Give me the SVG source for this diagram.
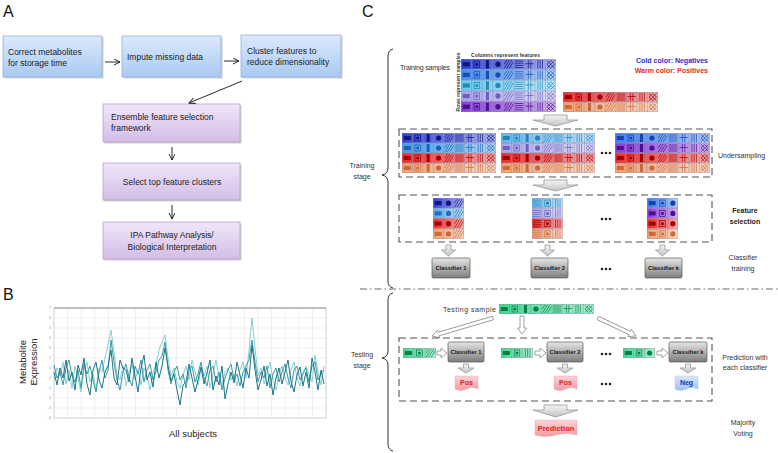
<svg xmlns="http://www.w3.org/2000/svg" xmlns:xlink="http://www.w3.org/1999/xlink" width="778" height="453" viewBox="0 0 778 453">
<style>
text{font-family:"Liberation Sans",Arial,sans-serif;}
.lbl{font-size:16px;fill:#111;}
.bt{font-size:8.5px;fill:#222;}
.ct{font-size:7px;fill:#333;}
.cb{font-size:7px;fill:#222;font-weight:bold;}
.arr{stroke:#111;stroke-width:0.9;fill:none;}
.dash{fill:none;stroke:#555;stroke-width:1.1;stroke-dasharray:7 4;}
.brace{fill:none;stroke:#333;stroke-width:1;}
.blk{fill:url(#gArrow);stroke:#8c8c8c;stroke-width:0.7;}
.hol{fill:#fff;stroke:#8c8c8c;stroke-width:0.8;}
.clf{fill:url(#gClf);stroke:#5a5a5a;stroke-width:0.7;}
.clt{font-size:5.8px;font-weight:bold;fill:#1a1a1a;text-anchor:middle;}
.g{fill:currentColor;}
.s{fill:none;stroke:currentColor;stroke-width:0.7;}
.grid{fill:none;stroke:#8f8fa8;stroke-width:0.5;}
.dot{fill:#222;}
</style>
<defs>
<linearGradient id="blueBox" x1="0" y1="0" x2="0" y2="1"><stop offset="0" stop-color="#dce9fb"/><stop offset="1" stop-color="#a8caf3"/></linearGradient>
<linearGradient id="purpBox" x1="0" y1="0" x2="0" y2="1"><stop offset="0" stop-color="#f0e6f8"/><stop offset="1" stop-color="#d3bde7"/></linearGradient>
<linearGradient id="fade" x1="0" y1="0" x2="1" y2="0"><stop offset="0" stop-color="#fff" stop-opacity="0"/><stop offset="1" stop-color="#fff" stop-opacity="0.6"/></linearGradient>
<linearGradient id="gArrow" x1="0" y1="0" x2="0" y2="1"><stop offset="0" stop-color="#f4f4f4"/><stop offset="1" stop-color="#c4c4c4"/></linearGradient>
<linearGradient id="gClf" x1="0" y1="0" x2="0" y2="1"><stop offset="0" stop-color="#e6e6e6"/><stop offset="1" stop-color="#7c7c7c"/></linearGradient>
<linearGradient id="gPos" x1="0" y1="0" x2="0" y2="1"><stop offset="0" stop-color="#fbd4d8"/><stop offset="1" stop-color="#f19aa4"/></linearGradient>
<linearGradient id="gNeg" x1="0" y1="0" x2="0" y2="1"><stop offset="0" stop-color="#d8e8fb"/><stop offset="1" stop-color="#9cc2f1"/></linearGradient>
<marker id="ar" markerWidth="7" markerHeight="7" refX="6" refY="3" orient="auto" markerUnits="userSpaceOnUse"><path d="M0,0 L6,3 L0,6" fill="none" stroke="#111" stroke-width="0.9"/></marker>
<symbol id="g1" viewBox="0 0 10.5 10"><rect class="g" x="1.8" y="3" width="7" height="4"/></symbol>
<symbol id="g2" viewBox="0 0 10.5 10"><rect class="s" x="2.5" y="2" width="5.5" height="6"/><circle class="g" cx="5.25" cy="5" r="1.5"/></symbol>
<symbol id="g3" viewBox="0 0 10.5 10"><rect class="g" x="3.8" y="1" width="3" height="8"/></symbol>
<symbol id="g4" viewBox="0 0 10.5 10"><circle class="g" cx="5.25" cy="5" r="2.6"/></symbol>
<symbol id="g5" viewBox="0 0 10.5 10"><path class="s" d="M1,9 L6,1 M3.5,9 L8.5,1 M6,9 L10,2.5 M1,5 L3.5,1"/></symbol>
<symbol id="g6" viewBox="0 0 10.5 10"><path class="s" d="M1,2H9.5M1,4H9.5M1,6H9.5M1,8H9.5"/></symbol>
<symbol id="g7" viewBox="0 0 10.5 10"><path class="s" d="M4,1V9M6.5,1V9M1,4.5H9.5"/></symbol>
<symbol id="g8" viewBox="0 0 10.5 10"><path class="s" d="M3,1V9M5.25,1V9M7.5,1V9"/></symbol>
<symbol id="g9" viewBox="0 0 10.5 10"><path class="s" d="M1.5,1.5L9,8.5M9,1.5L1.5,8.5M1.5,5L5.25,1.5L9,5L5.25,8.5Z"/></symbol>
<symbol id="gly9" viewBox="0 0 94.5 10" preserveAspectRatio="none">
<use href="#g1" x="0" y="0" width="10.5" height="10"/><use href="#g2" x="10.5" y="0" width="10.5" height="10"/><use href="#g3" x="21" y="0" width="10.5" height="10"/><use href="#g4" x="31.5" y="0" width="10.5" height="10"/><use href="#g5" x="42" y="0" width="10.5" height="10"/><use href="#g6" x="52.5" y="0" width="10.5" height="10"/><use href="#g7" x="63" y="0" width="10.5" height="10"/><use href="#g8" x="73.5" y="0" width="10.5" height="10"/><use href="#g9" x="84" y="0" width="10.5" height="10"/>
</symbol>
<symbol id="grid9" viewBox="0 0 94.5 10" preserveAspectRatio="none"><path class="grid" d="M0.25,0.25H94.25V9.75H0.25ZM10.5,0V10M21,0V10M31.5,0V10M42,0V10M52.5,0V10M63,0V10M73.5,0V10M84,0V10"/></symbol>
<symbol id="grid3" viewBox="0 0 31.5 10" preserveAspectRatio="none"><path class="grid" d="M0.25,0.25H31.25V9.75H0.25ZM10.5,0V10M21,0V10"/></symbol>
<symbol id="gA" viewBox="0 0 31.5 10" preserveAspectRatio="none"><use href="#g1" x="0" width="10.5" height="10"/><use href="#g4" x="10.5" width="10.5" height="10"/><use href="#g5" x="21" width="10.5" height="10"/></symbol>
<symbol id="gB" viewBox="0 0 31.5 10" preserveAspectRatio="none"><use href="#g6" x="0" width="10.5" height="10"/><use href="#g2" x="10.5" width="10.5" height="10"/><use href="#g8" x="21" width="10.5" height="10"/></symbol>
<symbol id="gC" viewBox="0 0 31.5 10" preserveAspectRatio="none"><use href="#g1" x="0" width="10.5" height="10"/><use href="#g2" x="10.5" width="10.5" height="10"/><use href="#g4" x="21" width="10.5" height="10"/></symbol>
<symbol id="gD" viewBox="0 0 31.5 10" preserveAspectRatio="none"><use href="#g1" x="0" width="10.5" height="10"/><use href="#g2" x="10.5" width="10.5" height="10"/><use href="#g5" x="21" width="10.5" height="10"/></symbol>
<symbol id="gE" viewBox="0 0 31.5 10" preserveAspectRatio="none"><use href="#g1" x="0" width="10.5" height="10"/><use href="#g2" x="10.5" width="10.5" height="10"/><use href="#g8" x="21" width="10.5" height="10"/></symbol>
</defs>
<rect width="778" height="453" fill="#fff"/>

<!-- Panel A -->
<g id="panelA">
<text class="lbl" x="3" y="17">A</text>
<g id="a-correct"><rect x="4.5" y="37.5" width="99" height="41" fill="#cfcfcf"/><rect x="3" y="36" width="99" height="41" fill="url(#blueBox)" stroke="#8fb2dc" stroke-width="0.8"/><text class="bt" x="8" y="55">Correct metabolites</text><text class="bt" x="8" y="66">for storage time</text></g>
<g id="a-impute"><rect x="123.5" y="37.5" width="99" height="41" fill="#cfcfcf"/><rect x="122" y="36" width="99" height="41" fill="url(#blueBox)" stroke="#8fb2dc" stroke-width="0.8"/><text class="bt" x="127" y="59.5">Impute missing data</text></g>
<g id="a-cluster"><rect x="242.5" y="36.5" width="100" height="42" fill="#cfcfcf"/><rect x="241" y="35" width="100" height="42" fill="url(#blueBox)" stroke="#8fb2dc" stroke-width="0.8"/><text class="bt" x="247" y="54">Cluster features to</text><text class="bt" x="247" y="65">reduce dimensionality</text></g>
<g id="a-ensemble"><rect x="104.5" y="105.5" width="137" height="38" fill="#cfcfcf"/><rect x="103" y="104" width="137" height="38" fill="url(#purpBox)" stroke="#b9a0d3" stroke-width="0.8"/><text class="bt" x="111" y="120">Ensemble feature selection</text><text class="bt" x="111" y="131">framework</text></g>
<g id="a-select"><rect x="104.5" y="164.5" width="137" height="37" fill="#cfcfcf"/><rect x="103" y="163" width="137" height="37" fill="url(#purpBox)" stroke="#b9a0d3" stroke-width="0.8"/><text class="bt" x="172" y="184.5" text-anchor="middle">Select top feature clusters</text></g>
<g id="a-ipa"><rect x="104.5" y="223.5" width="137" height="37" fill="#cfcfcf"/><rect x="103" y="222" width="137" height="37" fill="url(#purpBox)" stroke="#b9a0d3" stroke-width="0.8"/><text class="bt" x="172" y="238" text-anchor="middle">IPA Pathway Analysis/</text><text class="bt" x="172" y="250" text-anchor="middle">Biological Interpretation</text></g>
<g id="a-connectors">
<line class="arr" x1="105" y1="62" x2="120" y2="62" marker-end="url(#ar)"/>
<line class="arr" x1="224" y1="61" x2="239" y2="61" marker-end="url(#ar)"/>
<line class="arr" x1="242" y1="81" x2="189" y2="103" marker-end="url(#ar)"/>
<line class="arr" x1="172" y1="147" x2="172" y2="160" marker-end="url(#ar)"/>
<line class="arr" x1="172" y1="205" x2="172" y2="219" marker-end="url(#ar)"/>
</g>
</g>

<!-- Panel B -->
<g id="panelB">
<text class="lbl" x="3" y="300">B</text>
<rect x="54" y="308" width="272" height="110" fill="#fff" stroke="#b0b0b0" stroke-width="0.6"/>
<path d="M54,318H326M54,328H326M54,338H326M54,348H326M54,358H326M54,368H326M54,378H326M54,388H326M54,398H326M54,408H326M67.6,308V418M81.2,308V418M94.8,308V418M108.4,308V418M122,308V418M135.6,308V418M149.2,308V418M162.8,308V418M176.4,308V418M190,308V418M203.6,308V418M217.2,308V418M230.8,308V418M244.4,308V418M258,308V418M271.6,308V418M285.2,308V418M298.8,308V418M312.4,308V418" stroke="#dedede" stroke-width="0.5" fill="none"/>
<line x1="54" y1="308" x2="326" y2="308" stroke="#888" stroke-width="0.8"/>
<g font-size="3" fill="#777" text-anchor="end">
<text x="51" y="309">7</text><text x="51" y="319">6</text><text x="51" y="329">5</text><text x="51" y="339">4</text><text x="51" y="349">3</text><text x="51" y="359">2</text><text x="51" y="369">1</text><text x="51" y="379">0</text><text x="51" y="389">-1</text><text x="51" y="399">-2</text><text x="51" y="409">-3</text><text x="51" y="419">-4</text>
</g>
<polyline fill="none" stroke="#86d0d0" stroke-width="1" points="54,380 57,368 60,376 63,362 66,384 69,370 72,388 75,366 78,378 81,392 84,370 87,362 90,382 93,374 96,390 99,368 102,372 105,358 108,345 111,330 114,352 117,375 120,380 123,366 126,386 129,372 132,364 135,380 138,370 141,385 144,368 147,376 150,390 153,372 156,365 159,350 162,342 165,335 168,358 171,376 174,368 177,382 180,388 183,375 186,366 189,380 192,360 195,372 198,385 201,370 204,376 207,366 210,388 213,374 216,360 219,378 222,386 225,372 228,368 231,380 234,374 237,386 240,370 243,362 246,378 249,350 252,318 255,348 258,376 261,368 264,384 267,372 270,362 273,380 276,390 279,374 282,366 285,378 288,385 291,370 294,362 297,378 300,386 303,372 306,366 309,374 312,382 315,355 318,372 321,385 324,366"/>
<polyline fill="none" stroke="#3a9aa8" stroke-width="1" points="54,365 57,378 60,372 63,385 66,368 69,360 72,376 75,382 78,370 81,388 84,364 87,374 90,366 93,380 96,392 99,372 102,360 105,378 108,370 111,340 114,362 117,380 120,390 123,372 126,364 129,378 132,386 135,366 138,374 141,360 144,382 147,370 150,364 153,380 156,372 159,360 162,356 165,342 168,370 171,384 174,372 177,366 180,380 183,374 186,388 189,370 192,366 195,382 198,374 201,362 204,378 207,386 210,370 213,366 216,382 219,372 222,390 225,378 228,370 231,364 234,380 237,374 240,386 243,372 246,366 249,360 252,340 255,362 258,382 261,372 264,378 267,366 270,388 273,374 276,368 279,382 282,372 285,364 288,378 291,388 294,370 297,366 300,380 303,374 306,368 309,382 312,366 315,362 318,380 321,374 324,370"/>
<polyline fill="none" stroke="#1d7686" stroke-width="1" points="54,372 57,385 60,368 63,378 66,360 69,381 72,372 75,390 78,365 81,375 84,358 87,384 90,395 93,370 96,362 99,380 102,388 105,372 108,366 111,350 114,378 117,385 120,360 123,368 126,370 129,382 132,358 135,376 138,392 141,368 144,355 147,380 150,372 153,387 156,362 159,378 162,366 165,348 168,366 171,381 174,374 177,390 180,405 183,385 186,382 189,364 192,378 195,392 198,380 201,367 204,384 207,373 210,360 213,390 216,376 219,385 222,366 225,399 228,384 231,372 234,383 237,362 240,375 243,388 246,368 249,378 252,345 255,370 258,390 261,380 264,366 267,386 270,374 273,395 276,378 279,368 282,384 285,372 288,360 291,381 294,392 297,375 300,367 303,386 306,372 309,388 312,358 315,372 318,390 321,370 324,384"/>
<text x="26" y="362" font-size="9.5" fill="#222" text-anchor="middle" transform="rotate(-90 26 362)">Metabolite</text>
<text x="37" y="362" font-size="9.5" fill="#222" text-anchor="middle" transform="rotate(-90 37 362)">Expression</text>
<text x="193" y="437" font-size="9.5" fill="#222" text-anchor="middle">All subjects</text>
</g>

<!-- Panel C -->
<g id="panelC">
<text class="lbl" x="362" y="17">C</text>
<path class="brace" d="M393,49 Q388,50 388,56 V168 Q388,174 382,175 Q388,176 388,182 V281 Q388,287 393,288"/>
<path class="brace" d="M393,293 Q388,294 388,300 V351 Q388,357 382,358 Q388,359 388,365 V444 Q388,450 393,451"/>
<line x1="360" y1="289" x2="778" y2="289" stroke="#6a6a6a" stroke-width="1" stroke-dasharray="7 3 1.5 3"/>
<text class="ct" x="362" y="168" text-anchor="middle">Training</text>
<text class="ct" x="362" y="179" text-anchor="middle">stage</text>
<text class="ct" x="362" y="357" text-anchor="middle">Testing</text>
<text class="ct" x="362" y="368" text-anchor="middle">stage</text>

<g id="training-samples">
<text class="ct" x="400" y="69.5" textLength="50">Training samples</text>
<text x="471" y="57" font-size="5" font-weight="bold" fill="#333" textLength="69">Columns represent features</text>
<text x="460" y="82" font-size="5" font-weight="bold" fill="#333" text-anchor="middle" transform="rotate(-90 460 82)">Rows represent samples</text>
<text x="708" y="62.5" font-size="7" font-weight="bold" fill="#2b2bcc" text-anchor="end">Cold color: Negatives</text>
<text x="708" y="72.5" font-size="7" font-weight="bold" fill="#e02a2a" text-anchor="end">Warm color: Positives</text>
<g id="neg-matrix">
<rect x="461" y="59" width="95" height="10.6" fill="#2f3fd8"/><rect x="461" y="59" width="95" height="10.6" fill="url(#fade)"/><use href="#gly9" x="461" y="59" width="95" height="10.6" color="#101880"/><use href="#grid9" x="461" y="59" width="95" height="10.6"/>
<rect x="461" y="69.6" width="95" height="10.6" fill="#3f8ef0"/><rect x="461" y="69.6" width="95" height="10.6" fill="url(#fade)"/><use href="#gly9" x="461" y="69.6" width="95" height="10.6" color="#1a4fb0"/><use href="#grid9" x="461" y="69.6" width="95" height="10.6"/>
<rect x="461" y="80.2" width="95" height="10.6" fill="#62c8f0"/><rect x="461" y="80.2" width="95" height="10.6" fill="url(#fade)"/><use href="#gly9" x="461" y="80.2" width="95" height="10.6" color="#2a88b8"/><use href="#grid9" x="461" y="80.2" width="95" height="10.6"/>
<rect x="461" y="90.8" width="95" height="10.6" fill="#a8a6ec"/><rect x="461" y="90.8" width="95" height="10.6" fill="url(#fade)"/><use href="#gly9" x="461" y="90.8" width="95" height="10.6" color="#6a60c0"/><use href="#grid9" x="461" y="90.8" width="95" height="10.6"/>
<rect x="461" y="101.4" width="95" height="10.6" fill="#8a3cd8"/><rect x="461" y="101.4" width="95" height="10.6" fill="url(#fade)"/><use href="#gly9" x="461" y="101.4" width="95" height="10.6" color="#4a1090"/><use href="#grid9" x="461" y="101.4" width="95" height="10.6"/>
</g>
<g id="pos-matrix">
<rect x="563" y="92" width="95" height="10" fill="#ec2a2a"/><rect x="563" y="92" width="95" height="10" fill="url(#fade)"/><use href="#gly9" x="563" y="92" width="95" height="10" color="#a00000"/><use href="#grid9" x="563" y="92" width="95" height="10"/>
<rect x="563" y="102" width="95" height="10" fill="#f5a070"/><rect x="563" y="102" width="95" height="10" fill="url(#fade)"/><use href="#gly9" x="563" y="102" width="95" height="10" color="#c86a3a"/><use href="#grid9" x="563" y="102" width="95" height="10"/>
</g>
</g>
<polygon class="blk" points="544,115 567,115 567,120 578,120 555.5,126 533,120 544,120"/>

<g id="undersampling">
<rect class="dash" x="399" y="129" width="313" height="48"/>
<g id="us-m1">
<rect x="402" y="133" width="94" height="10" fill="#2f3fd8"/><rect x="402" y="133" width="94" height="10" fill="url(#fade)"/><use href="#gly9" x="402" y="133" width="94" height="10" color="#101880"/><use href="#grid9" x="402" y="133" width="94" height="10"/>
<rect x="402" y="143" width="94" height="10" fill="#3f9af0"/><rect x="402" y="143" width="94" height="10" fill="url(#fade)"/><use href="#gly9" x="402" y="143" width="94" height="10" color="#1a5fb0"/><use href="#grid9" x="402" y="143" width="94" height="10"/>
<rect x="402" y="153" width="94" height="10" fill="#ec2a2a"/><rect x="402" y="153" width="94" height="10" fill="url(#fade)"/><use href="#gly9" x="402" y="153" width="94" height="10" color="#a00000"/><use href="#grid9" x="402" y="153" width="94" height="10"/>
<rect x="402" y="163" width="94" height="10" fill="#f5a070"/><rect x="402" y="163" width="94" height="10" fill="url(#fade)"/><use href="#gly9" x="402" y="163" width="94" height="10" color="#c86a3a"/><use href="#grid9" x="402" y="163" width="94" height="10"/>
</g>
<g id="us-m2">
<rect x="501" y="133" width="94" height="10" fill="#62b8f0"/><rect x="501" y="133" width="94" height="10" fill="url(#fade)"/><use href="#gly9" x="501" y="133" width="94" height="10" color="#2a80b8"/><use href="#grid9" x="501" y="133" width="94" height="10"/>
<rect x="501" y="143" width="94" height="10" fill="#a8a6ec"/><rect x="501" y="143" width="94" height="10" fill="url(#fade)"/><use href="#gly9" x="501" y="143" width="94" height="10" color="#6a60c0"/><use href="#grid9" x="501" y="143" width="94" height="10"/>
<rect x="501" y="153" width="94" height="10" fill="#ec2a2a"/><rect x="501" y="153" width="94" height="10" fill="url(#fade)"/><use href="#gly9" x="501" y="153" width="94" height="10" color="#a00000"/><use href="#grid9" x="501" y="153" width="94" height="10"/>
<rect x="501" y="163" width="94" height="10" fill="#f5a070"/><rect x="501" y="163" width="94" height="10" fill="url(#fade)"/><use href="#gly9" x="501" y="163" width="94" height="10" color="#c86a3a"/><use href="#grid9" x="501" y="163" width="94" height="10"/>
</g>
<g id="us-dots"><circle class="dot" cx="602" cy="153" r="1.3"/><circle class="dot" cx="606" cy="153" r="1.3"/><circle class="dot" cx="610" cy="153" r="1.3"/></g>
<g id="us-m3">
<rect x="615" y="133" width="95" height="10" fill="#3a7ef0"/><rect x="615" y="133" width="95" height="10" fill="url(#fade)"/><use href="#gly9" x="615" y="133" width="95" height="10" color="#1a40b0"/><use href="#grid9" x="615" y="133" width="95" height="10"/>
<rect x="615" y="143" width="95" height="10" fill="#8a3cd8"/><rect x="615" y="143" width="95" height="10" fill="url(#fade)"/><use href="#gly9" x="615" y="143" width="95" height="10" color="#4a1090"/><use href="#grid9" x="615" y="143" width="95" height="10"/>
<rect x="615" y="153" width="95" height="10" fill="#ec2a2a"/><rect x="615" y="153" width="95" height="10" fill="url(#fade)"/><use href="#gly9" x="615" y="153" width="95" height="10" color="#a00000"/><use href="#grid9" x="615" y="153" width="95" height="10"/>
<rect x="615" y="163" width="95" height="10" fill="#f5a070"/><rect x="615" y="163" width="95" height="10" fill="url(#fade)"/><use href="#gly9" x="615" y="163" width="95" height="10" color="#c86a3a"/><use href="#grid9" x="615" y="163" width="95" height="10"/>
</g>
<text class="ct" x="718" y="157.5">Undersampling</text>
</g>
<polygon class="blk" points="544,180 567,180 567,185 578,185 555.5,191 533,185 544,185"/>

<g id="feature-selection">
<rect class="dash" x="399" y="195" width="313" height="47"/>
<g id="fs1">
<rect x="433" y="198" width="31" height="10.25" fill="#2f3fd8"/><rect x="433" y="198" width="31" height="10.25" fill="url(#fade)"/><use href="#gA" x="433" y="198" width="31" height="10.25" color="#101880"/><use href="#grid3" x="433" y="198" width="31" height="10.25"/>
<rect x="433" y="208.25" width="31" height="10.25" fill="#5aaaf0"/><rect x="433" y="208.25" width="31" height="10.25" fill="url(#fade)"/><use href="#gA" x="433" y="208.25" width="31" height="10.25" color="#2a6ab8"/><use href="#grid3" x="433" y="208.25" width="31" height="10.25"/>
<rect x="433" y="218.5" width="31" height="10.25" fill="#ec2a2a"/><rect x="433" y="218.5" width="31" height="10.25" fill="url(#fade)"/><use href="#gA" x="433" y="218.5" width="31" height="10.25" color="#a00000"/><use href="#grid3" x="433" y="218.5" width="31" height="10.25"/>
<rect x="433" y="228.75" width="31" height="10.25" fill="#f5a070"/><rect x="433" y="228.75" width="31" height="10.25" fill="url(#fade)"/><use href="#gA" x="433" y="228.75" width="31" height="10.25" color="#c86a3a"/><use href="#grid3" x="433" y="228.75" width="31" height="10.25"/>
</g>
<g id="fs2">
<rect x="532" y="198" width="31" height="10.25" fill="#62c0f0"/><rect x="532" y="198" width="31" height="10.25" fill="url(#fade)"/><use href="#gB" x="532" y="198" width="31" height="10.25" color="#2a80b8"/><use href="#grid3" x="532" y="198" width="31" height="10.25"/>
<rect x="532" y="208.25" width="31" height="10.25" fill="#a8a6ec"/><rect x="532" y="208.25" width="31" height="10.25" fill="url(#fade)"/><use href="#gB" x="532" y="208.25" width="31" height="10.25" color="#6a60c0"/><use href="#grid3" x="532" y="208.25" width="31" height="10.25"/>
<rect x="532" y="218.5" width="31" height="10.25" fill="#ec2a2a"/><rect x="532" y="218.5" width="31" height="10.25" fill="url(#fade)"/><use href="#gB" x="532" y="218.5" width="31" height="10.25" color="#a00000"/><use href="#grid3" x="532" y="218.5" width="31" height="10.25"/>
<rect x="532" y="228.75" width="31" height="10.25" fill="#f5a070"/><rect x="532" y="228.75" width="31" height="10.25" fill="url(#fade)"/><use href="#gB" x="532" y="228.75" width="31" height="10.25" color="#c86a3a"/><use href="#grid3" x="532" y="228.75" width="31" height="10.25"/>
</g>
<g id="fs-dots"><circle class="dot" cx="602" cy="219" r="1.3"/><circle class="dot" cx="606" cy="219" r="1.3"/><circle class="dot" cx="610" cy="219" r="1.3"/></g>
<g id="fs3">
<rect x="647" y="198" width="31" height="10.25" fill="#3a7ef0"/><rect x="647" y="198" width="31" height="10.25" fill="url(#fade)"/><use href="#gC" x="647" y="198" width="31" height="10.25" color="#1a40b0"/><use href="#grid3" x="647" y="198" width="31" height="10.25"/>
<rect x="647" y="208.25" width="31" height="10.25" fill="#8a3cd8"/><rect x="647" y="208.25" width="31" height="10.25" fill="url(#fade)"/><use href="#gC" x="647" y="208.25" width="31" height="10.25" color="#4a1090"/><use href="#grid3" x="647" y="208.25" width="31" height="10.25"/>
<rect x="647" y="218.5" width="31" height="10.25" fill="#ec2a2a"/><rect x="647" y="218.5" width="31" height="10.25" fill="url(#fade)"/><use href="#gC" x="647" y="218.5" width="31" height="10.25" color="#a00000"/><use href="#grid3" x="647" y="218.5" width="31" height="10.25"/>
<rect x="647" y="228.75" width="31" height="10.25" fill="#f5a070"/><rect x="647" y="228.75" width="31" height="10.25" fill="url(#fade)"/><use href="#gC" x="647" y="228.75" width="31" height="10.25" color="#c86a3a"/><use href="#grid3" x="647" y="228.75" width="31" height="10.25"/>
</g>
<text class="cb" x="745" y="213" text-anchor="middle">Feature</text>
<text class="cb" x="745" y="224" text-anchor="middle">selection</text>
</g>

<g id="classifier-training">
<polygon class="blk" points="446,245 451,245 451,250 455.5,250 448.5,256 441.5,250 446,250"/>
<polygon class="blk" points="545,245 550,245 550,250 554.5,250 547.5,256 540.5,250 545,250"/>
<polygon class="blk" points="660,245 665,245 665,250 669.5,250 662.5,256 655.5,250 660,250"/>
<g id="clf-train-1"><rect class="clf" x="432" y="258" width="38" height="20" rx="1.5"/><text class="clt" x="451" y="270">Classifier 1</text></g>
<g id="clf-train-2"><rect class="clf" x="531" y="258" width="37" height="20" rx="1.5"/><text class="clt" x="549.5" y="270">Classifier 2</text></g>
<g id="clf-dots"><circle class="dot" cx="602" cy="269" r="1.3"/><circle class="dot" cx="606" cy="269" r="1.3"/><circle class="dot" cx="610" cy="269" r="1.3"/></g>
<g id="clf-train-k"><rect class="clf" x="645" y="258" width="37" height="20" rx="1.5"/><text class="clt" x="663.5" y="270">Classifier k</text></g>
<text class="ct" x="743" y="260" text-anchor="middle">Classifier</text>
<text class="ct" x="743" y="271" text-anchor="middle">training</text>
</g>

<g id="testing-sample">
<text class="ct" x="443" y="311.5" textLength="53">Testing sample</text>
<rect x="499" y="304" width="95" height="10" fill="#3cd890"/><rect x="499" y="304" width="95" height="10" fill="url(#fade)"/><use href="#gly9" x="499" y="304" width="95" height="10" color="#0a8048"/><use href="#grid9" x="499" y="304" width="95" height="10"/>
</g>
<g id="connectors">
<polygon class="hol" transform="translate(493,318) rotate(163.6)" points="0,-1.8 56.6,-1.8 56.6,-4 63.6,0 56.6,4 56.6,1.8 0,1.8"/>
<polygon class="hol" transform="translate(522,316) rotate(90)" points="0,-2 12,-2 12,-4.5 18,0 12,4.5 12,2 0,2"/>
<polygon class="hol" transform="translate(598,318) rotate(25.3)" points="0,-1.8 35,-1.8 35,-4 42,0 35,4 35,1.8 0,1.8"/>
</g>

<g id="prediction">
<rect class="dash" x="399" y="338" width="313" height="63"/>
<g id="strip1"><rect x="403" y="348" width="33" height="10" fill="#3cd890"/><rect x="403" y="348" width="33" height="10" fill="url(#fade)"/><use href="#gD" x="403" y="348" width="33" height="10" color="#0a8048"/><use href="#grid3" x="403" y="348" width="33" height="10"/></g>
<g id="strip2"><rect x="501" y="348" width="32" height="10" fill="#3cd890"/><rect x="501" y="348" width="32" height="10" fill="url(#fade)"/><use href="#gE" x="501" y="348" width="32" height="10" color="#0a8048"/><use href="#grid3" x="501" y="348" width="32" height="10"/></g>
<g id="strip3"><rect x="623" y="348" width="32" height="10" fill="#3cd890"/><rect x="623" y="348" width="32" height="10" fill="url(#fade)"/><use href="#gC" x="623" y="348" width="32" height="10" color="#0a8048"/><use href="#grid3" x="623" y="348" width="32" height="10"/></g>
<polygon class="hol" points="437,351 441,351 441,348 447,353 441,358 441,355 437,355"/>
<polygon class="hol" points="535,351 540,351 540,348 546,353 540,358 540,355 535,355"/>
<polygon class="hol" points="657,351 662,351 662,348 668,353 662,358 662,355 657,355"/>
<g id="clf-test-1"><rect class="clf" x="448" y="342" width="36" height="20" rx="1.5"/><text class="clt" x="466" y="354">Classifier 1</text></g>
<g id="clf-test-2"><rect class="clf" x="547" y="342" width="36" height="20" rx="1.5"/><text class="clt" x="565" y="354">Classifier 2</text></g>
<g id="test-dots"><circle class="dot" cx="602" cy="354" r="1.3"/><circle class="dot" cx="606" cy="354" r="1.3"/><circle class="dot" cx="610" cy="354" r="1.3"/></g>
<g id="clf-test-k"><rect class="clf" x="669" y="342" width="38" height="20" rx="1.5"/><text class="clt" x="688" y="354">Classifier k</text></g>
<polygon class="blk" points="463.5,364 468.5,364 468.5,368 474,368 466,373 458,368 463.5,368"/>
<polygon class="blk" points="562.5,364 567.5,364 567.5,368 573,368 565,373 557,368 562.5,368"/>
<polygon class="blk" points="685.5,364 690.5,364 690.5,368 696,368 688,373 680,368 685.5,368"/>
<g id="pos1"><path d="M455,376 H478 V389 Q472.25,386 466.5,389 T455,389 Z" fill="url(#gPos)" stroke="#f0a0a8" stroke-width="0.4"/><text x="466.5" y="385" font-size="7" font-weight="bold" fill="#e02020" text-anchor="middle">Pos</text></g>
<g id="pos2"><path d="M554,376 H577 V389 Q571.25,386 565.5,389 T554,389 Z" fill="url(#gPos)" stroke="#f0a0a8" stroke-width="0.4"/><text x="565.5" y="385" font-size="7" font-weight="bold" fill="#e02020" text-anchor="middle">Pos</text></g>
<g id="pos-dots"><circle class="dot" cx="602" cy="384" r="1.3"/><circle class="dot" cx="606" cy="384" r="1.3"/><circle class="dot" cx="610" cy="384" r="1.3"/></g>
<g id="neg"><path d="M675,376 H698 V389 Q692.25,386 686.5,389 T675,389 Z" fill="url(#gNeg)" stroke="#9cc0ee" stroke-width="0.4"/><text x="686.5" y="385" font-size="7" font-weight="bold" fill="#2030b0" text-anchor="middle">Neg</text></g>
<text class="ct" x="745" y="359.5" text-anchor="middle">Prediction with</text>
<text class="ct" x="745" y="370" text-anchor="middle">each classifier</text>
</g>

<polygon class="blk" points="544,405 567,405 567,410 578,410 555.5,417 533,410 544,410"/>
<g id="majority">
<path d="M535,420 H577 V435 Q566.5,432 556,435 T535,435 Z" fill="url(#gPos)" stroke="#f0a0a8" stroke-width="0.4"/>
<text x="556" y="430.5" font-size="7.5" font-weight="bold" fill="#e02020" text-anchor="middle">Prediction</text>
<text class="ct" x="743" y="424.5" text-anchor="middle">Majority</text>
<text class="ct" x="743" y="435.5" text-anchor="middle">Voting</text>
</g>
</g>
</svg>
